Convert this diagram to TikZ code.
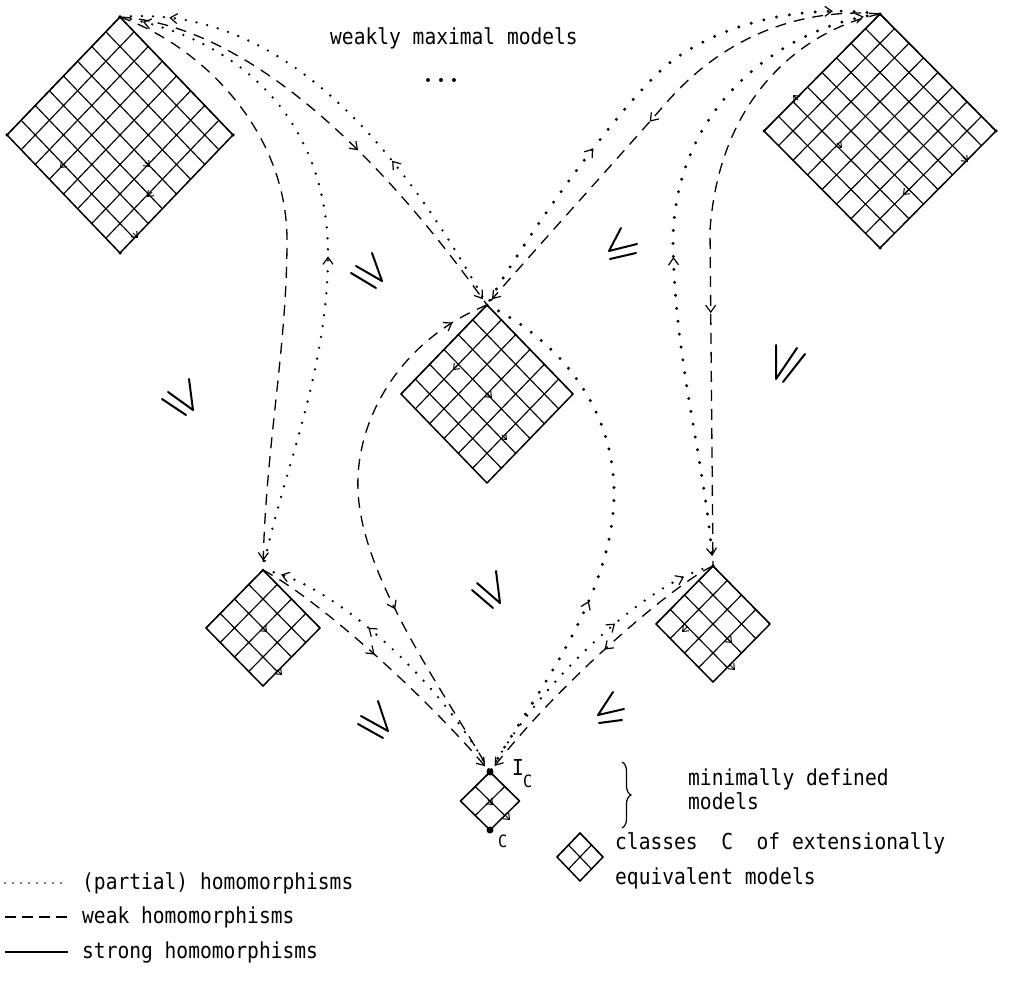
\documentclass[tikz,border=0pt]{standalone}
\usepackage{fontspec}
\newfontfamily\tw[FakeStretch=0.89]{DejaVu Sans Mono}
\usetikzlibrary{calc,decorations.markings,decorations.pathreplacing,arrows.meta}

\tikzset{
  gridln/.style={line width=1.15pt, line cap=round},
  gridedge/.style={line width=1.5pt, line cap=round, line join=round},
  dotsbold/.style={line width=3.3pt, line cap=round, dash pattern=on 0pt off 13pt},
  dotslight/.style={line width=2.6pt, line cap=round, dash pattern=on 0pt off 11pt},
  dashes/.style={line width=1.3pt, dash pattern=on 11pt off 8pt},
  barb/.tip={Straight Barb[length=7pt,width=10pt,line width=1.2pt]},
  smallbarb/.tip={Straight Barb[length=5pt,width=8pt,line width=1pt]},
  fwd/.style={postaction={decorate, decoration={markings, mark=at position #1 with {\arrow{barb}}}}},
  bwd/.style={postaction={decorate, decoration={markings, mark=at position #1 with {\arrowreversed{barb}}}}},
  relsym/.style={line width=2pt, line cap=round, line join=round},
  lbl/.style={font=\tw\fontsize{22}{24}\selectfont, inner sep=0pt, anchor=base west},
  sublbl/.style={font=\tw\fontsize{17}{18}\selectfont, inner sep=0pt, anchor=base west},
  vdot/.style={fill, circle, inner sep=0pt, minimum size=3.5pt},
  bigdot/.style={fill, circle, inner sep=0pt, minimum size=7pt},
}

% a class of models: a square grid turned on its corner
% #1 name, #2 centre, #3 half width, #4 half height, #5 cells per side
\newcommand\gridmodel[5]{%
  \coordinate (#1) at #2;
  \coordinate (#1t) at ($(#1)+(0,-#4)$);
  \coordinate (#1b) at ($(#1)+(0,#4)$);
  \coordinate (#1l) at ($(#1)+(-#3,0)$);
  \coordinate (#1r) at ($(#1)+(#3,0)$);
  \foreach \k [evaluate=\k as \f using \k/#5] in {1,...,#5}{
    \draw[gridln] ($(#1l)!\f!(#1t)$) -- ($(#1b)!\f!(#1r)$);
    \draw[gridln] ($(#1r)!\f!(#1t)$) -- ($(#1b)!\f!(#1l)$);
  }
  \draw[gridedge] (#1t) -- (#1r) -- (#1b) -- (#1l) -- cycle;
}

\begin{document}
\begin{tikzpicture}[x=1pt,y=-1pt]
\useasboundingbox (0,0) rectangle (1025,992);

% ---- classes of models ----
\gridmodel{TL}{(120,135)}{113}{118}{8}
\gridmodel{TR}{(880,131)}{116}{117}{8}
\gridmodel{CM}{(487,394)}{86}{89}{6}
\gridmodel{BL}{(263,628)}{57}{58}{4}
\gridmodel{BR}{(713,624)}{57}{58}{4}
\gridmodel{IC}{(490,801)}{29.5}{29}{2}
\gridmodel{LG}{(580,857)}{23}{24}{2}

\foreach \v in {TLt,TLl,TLr,TLb,TRl,TRr,TRb}{\node[vdot] at (\v) {};}
\node[bigdot] at (ICt) {};
\node[bigdot] at (ICb) {};

% strong homomorphisms inside the classes
\foreach \p/\d in {(65,163)/{(-5,5)}, (145,162)/{(5,5)}, (152,192)/{(-5,5)}, (133,233)/{(5,5)},
                  (798,100)/{(-5,-5)}, (837,143)/{(5,5)}, (908,190)/{(-5,5)}, (963,157)/{(5,5)},
                  (458,365)/{(-5,5)}, (487,393)/{(5,5)}, (502,435)/{(5,5)},
                  (262,627)/{(5,5)}, (277,670)/{(5,5)},
                  (687,627)/{(-5,5)}, (727,638)/{(5,5)}, (730,665)/{(5,5)},
                  (488,800)/{(5,5)}, (505,815)/{(5,5)}}{
  \draw[line width=1pt, -{smallbarb}] \p -- ++\d;
}

% ---- homomorphisms from the weakly maximal models ----
\draw[dotslight, bwd=0.1, bwd=0.65] (TLt) .. controls (260,5) and (380,110) .. (CMt);
\draw[dashes, fwd=0.58, fwd=0.985] (TLt) .. controls (240,25) and (370,140) .. (CMt);
\draw[dotslight, bwd=0.035, bwd=0.52] (TLt) .. controls (250,40) and (330,130) .. (328,260)
      .. controls (326,380) and (280,480) .. (BLt);
\draw[dashes, fwd=0.985] (TLt) .. controls (200,45) and (287,130) .. (287,240)
      .. controls (287,350) and (265,450) .. (BLt);

\draw[dotsbold, bwd=0.09, bwd=0.64] (TRt) .. controls (790,2) and (710,30) .. (667,65)
      .. controls (620,105) and (530,230) .. (CMt);
\draw[dashes, fwd=0.52, fwd=0.985] (TRt) .. controls (810,8) and (730,30) .. (667,102)
      .. controls (620,156) and (530,255) .. (CMt);
\draw[dotsbold, bwd=0.025, bwd=0.53, fwd=0.985] (TRt) .. controls (790,25) and (675,100) .. (673,240)
      .. controls (674,360) and (705,460) .. (BRt);
\draw[dashes, fwd=0.6] (TRt) .. controls (810,28) and (720,90) .. (710,230)
      .. controls (711,340) and (712,450) .. (BRt);

% ---- down to the minimally defined model ----
\draw[dotsbold, bwd=0.64] (CMt) .. controls (560,340) and (615,410) .. (614,495)
      .. controls (613,600) and (530,700) .. (ICt);
\draw[dashes, bwd=0.07, fwd=0.66] (CMt) .. controls (400,340) and (355,420) .. (358,490)
      .. controls (361,580) and (450,700) .. (ICt);
\draw[dotslight, bwd=0.06, bwd=0.39] (BLt) .. controls (330,580) and (440,680) .. (ICt);
\draw[dashes, fwd=0.46, fwd=0.975] (BLt) .. controls (320,600) and (430,700) .. (ICt);
\draw[dotslight, bwd=0.1, bwd=0.37] (BRt) .. controls (650,580) and (540,680) .. (ICt);
\draw[dashes, fwd=0.45, fwd=0.975] (BRt) .. controls (680,580) and (560,680) .. (ICt);

% ---- order relations ----
\draw[relsym] (168,392) -- (193,410) -- (189,379);  \draw[relsym] (162,399) -- (186,415);
\draw[relsym] (356,266) -- (382,281) -- (372,253);  \draw[relsym] (351,273) -- (376,288);
\draw[relsym] (477,583) -- (500,603) -- (496,571);  \draw[relsym] (472,590) -- (493,608);
\draw[relsym] (361,716) -- (388,731) -- (378,701);  \draw[relsym] (358,724) -- (383,738);
\draw[relsym] (776,345) -- (776,379) -- (797,348);  \draw[relsym] (783,382) -- (805,354);
\draw[relsym] (621,228) -- (609,251) -- (637,244);  \draw[relsym] (610,259) -- (636,253);
\draw[relsym] (613,692) -- (598,715) -- (624,709);  \draw[relsym] (599,723) -- (622,720);

% ---- texts ----
\node[lbl] (tmax) at (330,45) {weakly maximal models};
\foreach \x [count=\n] in {428,441,454}{\node[vdot, minimum size=4pt] (dot\n) at (\x,80) {};}
\node[lbl] (lic) at (512,775) {I};
\node[sublbl] (lics) at (523,787) {C};
\node[sublbl] (lc) at (498,847) {C};
\coordinate (brtop) at (622,762);
\coordinate (brbot) at (622,828);
\draw[line width=1.2pt, decorate, decoration={brace, amplitude=9pt}] (brtop) -- (brbot);
\node[lbl] (tmin1) at (688,785) {minimally defined};
\node[lbl] (tmin2) at (688,809) {models};

% ---- legend ----
\coordinate (la1) at (5,883);   \coordinate (lb1) at (68,883);
\coordinate (la2) at (5,917);   \coordinate (lb2) at (68,917);
\coordinate (la3) at (5,952);   \coordinate (lb3) at (68,952);
\draw[line width=1.7pt, line cap=round, dash pattern=on 0pt off 8pt] (la1) -- (lb1);
\draw[line width=1.3pt, dash pattern=on 11pt off 6pt] (la2) -- (lb2);
\draw[line width=1.5pt] (la3) -- (lb3);
\node[lbl] (leg1) at (82,889) {(partial) homomorphisms};
\node[lbl] (leg2) at (82,923) {weak homomorphisms};
\node[lbl] (leg3) at (82,958) {strong homomorphisms};
\node[lbl] (leg4) at (615,849) {classes\ \ C\ \ of extensionally};
\node[lbl] (leg5) at (615,884) {equivalent models};
\end{tikzpicture}
\end{document}
